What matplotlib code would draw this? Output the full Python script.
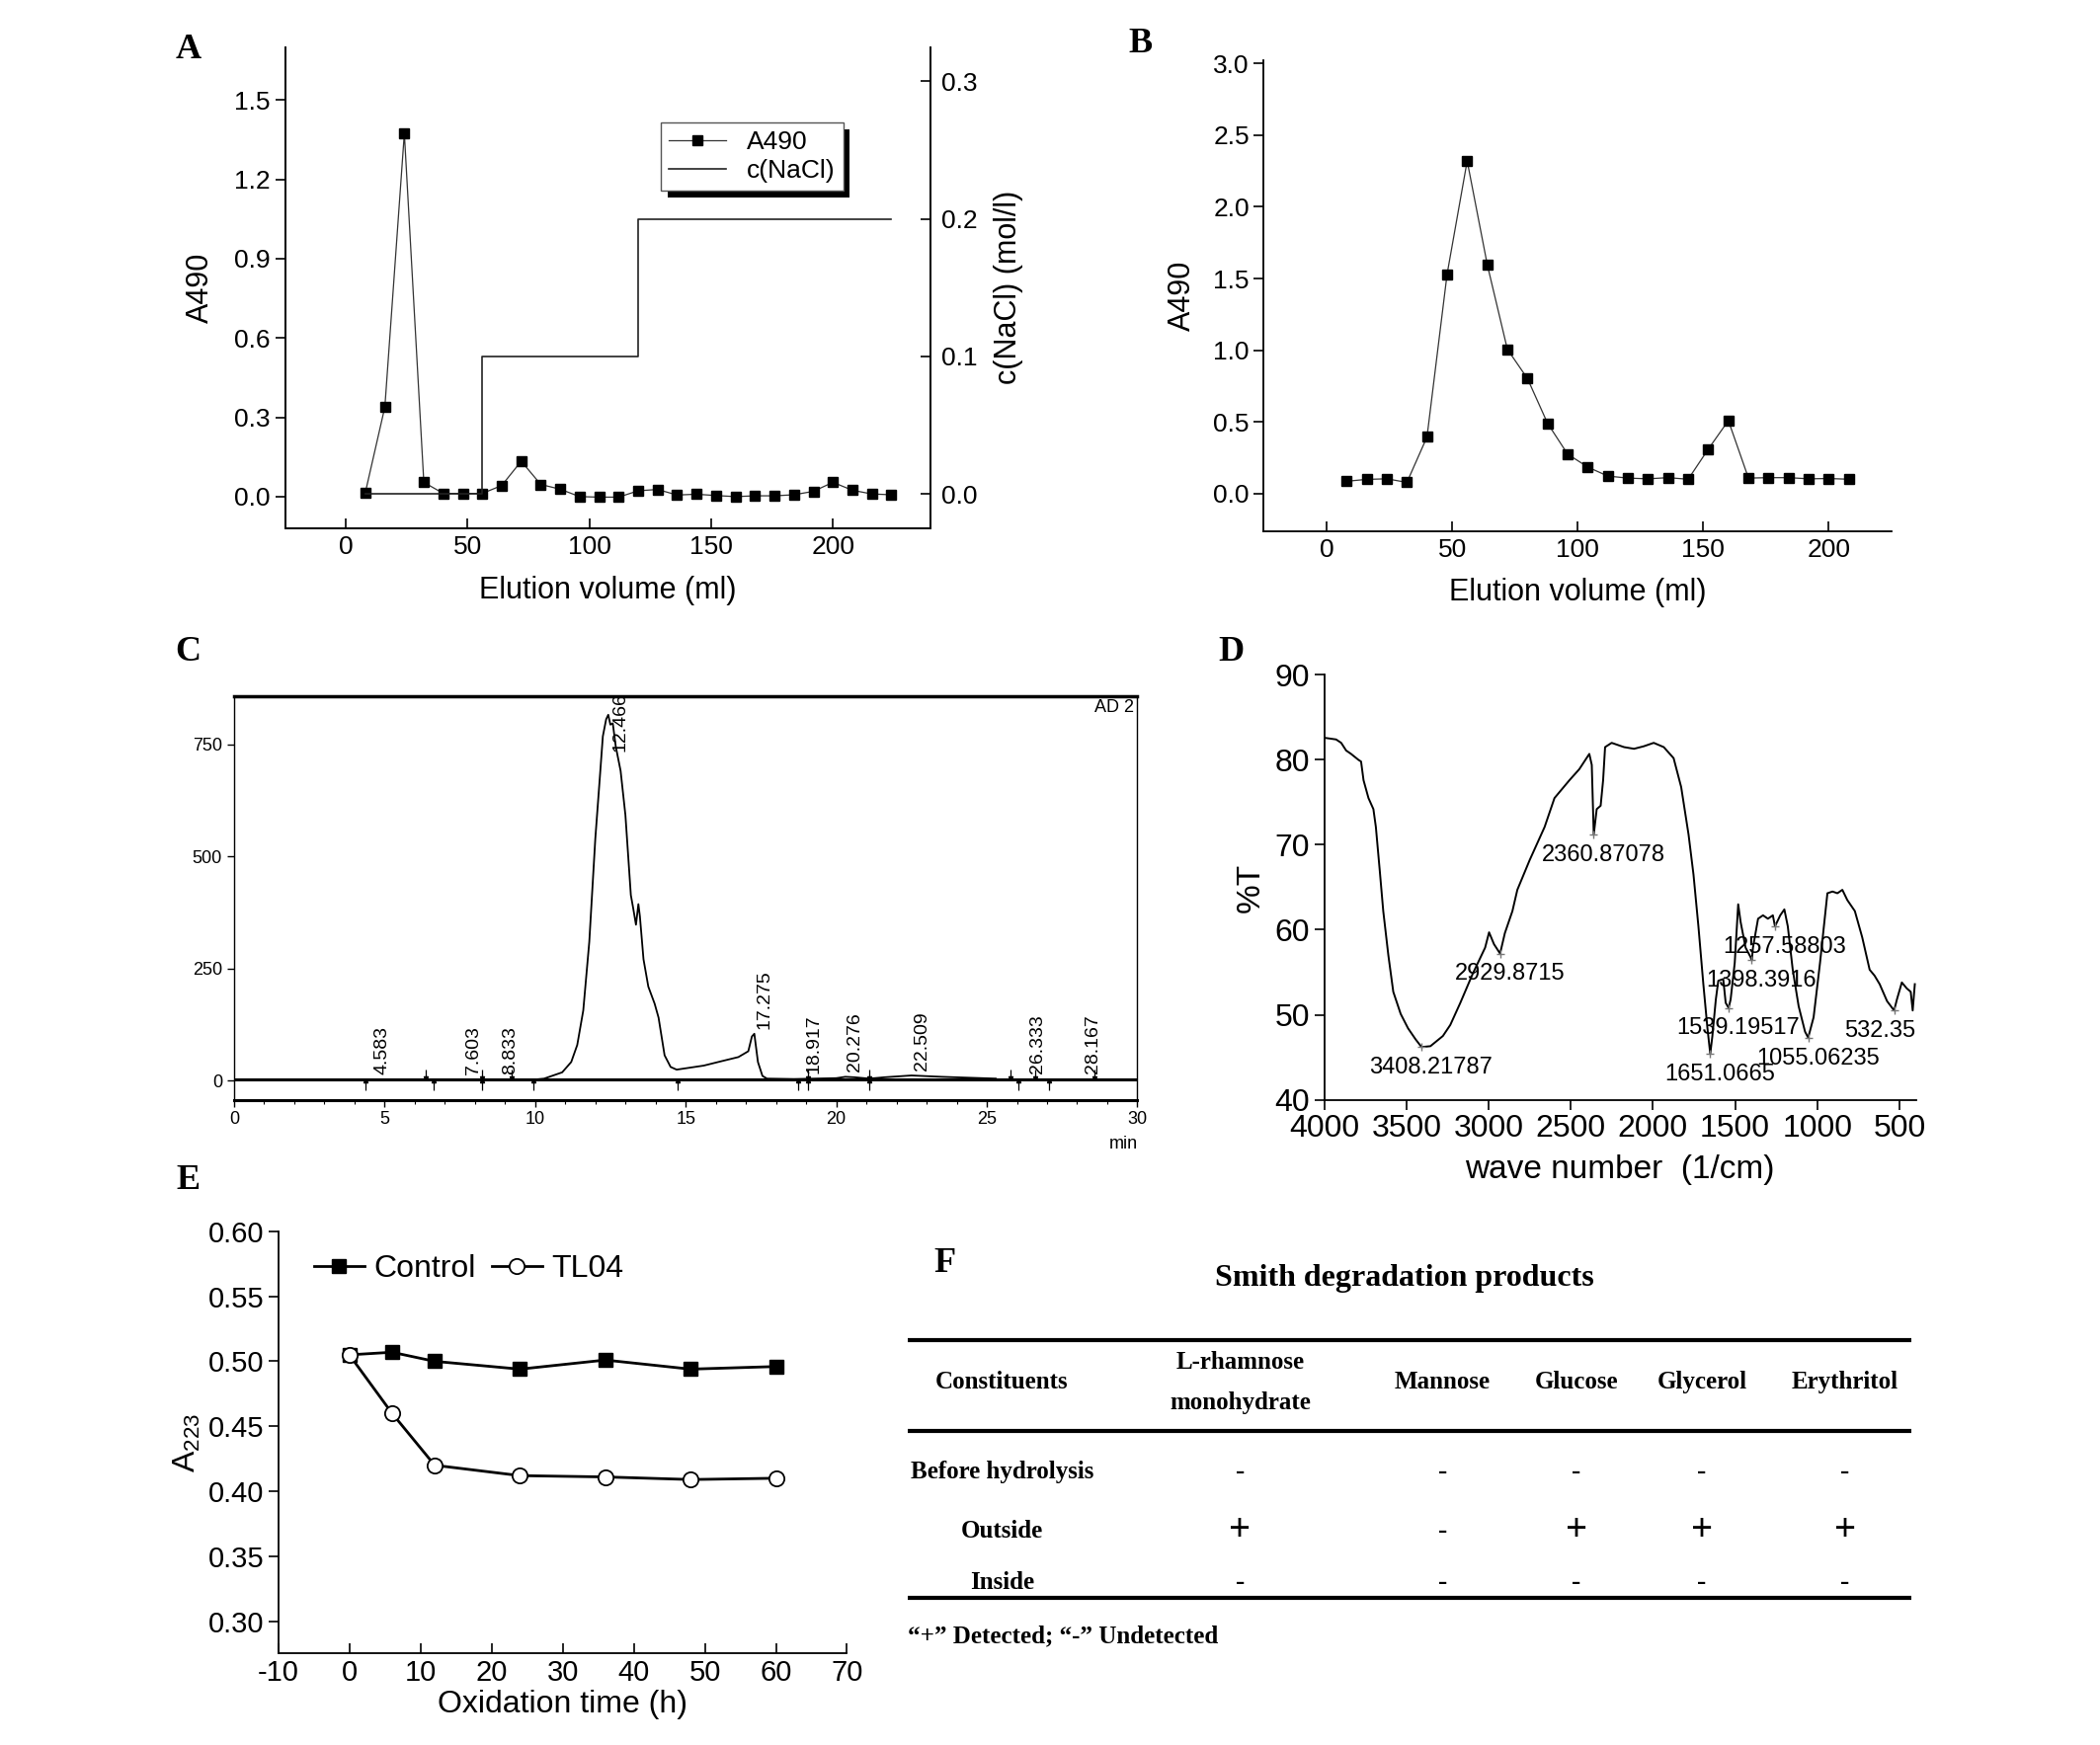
import numpy as np
import matplotlib.pyplot as plt
from matplotlib.ticker import FormatStrFormatter, MultipleLocator
import matplotlib.patheffects as pe

plt.rcParams['font.family'] = ['Liberation Sans', 'DejaVu Sans']
plt.rcParams['mathtext.fontset'] = 'custom'
plt.rcParams['mathtext.rm'] = 'Liberation Sans'
plt.rcParams['axes.unicode_minus'] = False

# Panel A - DEAE column elution
vol_a = [8, 16, 24, 32, 40, 48, 56, 64, 72, 80, 88, 96, 104, 112, 120, 128,
         136, 144, 152, 160, 168, 176, 184, 192, 200, 208, 216, 224]
a490_a = [0.016, 0.339, 1.374, 0.054, 0.012, 0.012, 0.012, 0.042, 0.134, 0.046,
          0.028, 0.0, -0.002, -0.002, 0.022, 0.027, 0.006, 0.009, 0.004, 0.0,
          0.003, 0.003, 0.007, 0.020, 0.054, 0.024, 0.010, 0.007]
nacl_vol = [8, 56, 120, 224]
nacl_conc = [0.0, 0.1, 0.2, 0.2]

# Panel B - gel filtration
vol_b = [8, 16, 24, 32, 40, 48, 56, 64, 72, 80, 88, 96, 104, 112, 120, 128,
         136, 144, 152, 160, 168, 176, 184, 192, 200, 208]
a490_b = [0.087, 0.100, 0.104, 0.079, 0.396, 1.531, 2.320, 1.597, 1.007, 0.803,
          0.491, 0.276, 0.186, 0.123, 0.109, 0.104, 0.112, 0.101, 0.311, 0.510,
          0.109, 0.112, 0.112, 0.104, 0.106, 0.101]

# Panel C - HPLC trace
hplc_t = [0.0, 10.0, 10.3, 10.9, 11.2, 11.4, 11.6, 11.8, 12.0, 12.15,
          12.25, 12.36, 12.43, 12.5, 12.58, 12.68, 12.84, 13.0, 13.18, 13.26,
          13.35, 13.43, 13.48, 13.6, 13.76, 13.97, 14.1, 14.3, 14.5, 14.7,
          15.0, 15.6, 16.2, 16.75, 17.08, 17.2, 17.28, 17.4, 17.55, 17.7,
          18.6, 20.0, 20.3, 20.6, 21.1, 21.6, 22.5, 23.5, 25.3]
hplc_mv = [3, 3, 5, 19, 42, 80, 157, 310, 540, 676,
           768, 806, 816, 794, 797, 745, 691, 592, 414, 384,
           348, 394, 367, 271, 210, 172, 141, 57, 31, 25,
           28, 34, 44, 53, 66, 99, 105, 42, 11, 5,
           4, 6, 9, 8, 5, 8, 12, 9, 5]
peak_rt = [4.583, 7.603, 8.833, 12.466, 17.275, 18.917, 20.276, 22.509, 26.333, 28.167]
event_up = [4.37, 6.64, 8.25, 9.94, 14.74, 18.73, 19.05, 21.08, 26.06, 27.08]
event_down = [6.36, 8.25, 9.21, 19.05, 21.08, 25.8, 26.6, 28.56]

# Panel D - IR spectrum
ir_wn = [4000, 3928, 3897, 3867, 3837, 3792, 3776, 3761, 3731, 3701, 3686, 3662,
         3641, 3610, 3580, 3535, 3490, 3444, 3408, 3354, 3278, 3233, 3172, 3097,
         3021, 2997, 2967, 2930, 2901, 2855, 2825, 2750, 2659, 2599, 2508, 2448,
         2387, 2372, 2360, 2342, 2318, 2303, 2291, 2251, 2176, 2115, 2055, 1995,
         1934, 1874, 1828, 1783, 1753, 1723, 1693, 1668, 1651, 1638, 1617, 1602,
         1572, 1557, 1539, 1527, 1502, 1481, 1466, 1436, 1406, 1398, 1391, 1360,
         1330, 1300, 1270, 1257, 1225, 1200, 1179, 1149, 1113, 1074, 1055, 1022,
         983, 938, 907, 877, 847, 817, 771, 726, 681, 651, 620, 575, 532, 515,
         485, 455, 431, 419, 406]
ir_t = [82.6, 82.4, 82.0, 81.1, 80.7, 80.0, 79.8, 77.6, 75.5, 74.2, 72.1, 66.9,
        62.2, 57.0, 52.7, 50.1, 48.4, 47.1, 46.2, 46.3, 47.5, 48.8, 51.4, 54.8,
        57.9, 59.7, 58.3, 57.2, 59.6, 62.2, 64.7, 68.2, 72.1, 75.5, 77.6, 78.9,
        80.7, 79.4, 71.2, 74.2, 74.6, 77.6, 81.5, 82.0, 81.5, 81.3, 81.6, 82.0,
        81.5, 80.2, 76.8, 71.2, 66.5, 60.4, 53.6, 48.4, 45.4, 47.5, 51.8, 54.0,
        54.2, 51.4, 50.8, 51.8, 56.1, 63.0, 60.9, 57.9, 56.8, 56.4, 57.9, 61.3,
        61.7, 61.3, 61.7, 60.4, 61.7, 62.4, 60.4, 55.3, 51.0, 48.0, 47.3, 49.7,
        56.1, 64.3, 64.5, 64.3, 64.7, 63.5, 62.2, 59.1, 55.3, 54.6, 53.6, 51.6,
        50.5, 51.8, 53.8, 53.1, 52.7, 50.5, 53.6]
ir_peaks = ['3408.21787', '2929.8715', '2360.87078', '1651.0665', '1539.19517',
            '1398.3916', '1257.58803', '1055.06235', '532.35']
ir_peak_t = [46.2, 57.2, 71.2, 45.4, 50.8, 56.4, 60.4, 47.3, 50.5]

# Panel E - periodate oxidation
ox_time = [0, 6, 12, 24, 36, 48, 60]
a223_control = [0.505, 0.507, 0.500, 0.494, 0.501, 0.494, 0.496]
a223_tl04 = [0.505, 0.460, 0.420, 0.412, 0.411, 0.409, 0.410]

# Panel F - Smith degradation table
f_cols = ['L-rhamnose\nmonohydrate', 'Mannose', 'Glucose', 'Glycerol', 'Erythritol']
f_rows = ['Before hydrolysis', 'Outside', 'Inside']
f_marks = [['-', '-', '-', '-', '-'],
           ['+', '-', '+', '+', '+'],
           ['-', '-', '-', '-', '-']]

# layout is measured on a grid of the reference (about 1560 x 1297)
W, H = 1562.0, 1298.0


def box(x0, y0, x1, y1):
    return [x0 / W, 1 - y1 / H, (x1 - x0) / W, (y1 - y0) / H]


fig = plt.figure(figsize=(21.26, 17.67), dpi=100)
serif = ['Liberation Serif', 'DejaVu Serif']
for letter, (lx, ly) in zip('ABCDEF', [(140, 37), (848, 33), (140, 485),
                                       (916, 485), (140, 878), (703, 940)]):
    fig.text(lx / W, 1 - ly / H, letter, family=serif, weight='bold',
             fontsize=26, ha='center', va='center')

# ---------- A ----------
axA = fig.add_axes(box(212, 35, 692, 393))
lA, = axA.plot(vol_a, a490_a, color='#333333', lw=0.9, marker='s', ms=7,
               mfc='black', mec='black', label='A490')
axA.set_xlim(-25, 240)
axA.set_ylim(-0.12, 1.70)
axA.set_yticks([0, 0.3, 0.6, 0.9, 1.2, 1.5])
axA.yaxis.set_major_formatter(FormatStrFormatter('%.1f'))
axA.set_xticks([0, 50, 100, 150, 200])
axA.spines['top'].set_visible(False)
axA.tick_params(axis='y', direction='out', length=7, width=1.2, labelsize=19)
axA.tick_params(axis='x', direction='in', length=7, width=1.2, labelsize=19, pad=5)
axA.set_xlabel('Elution volume (ml)', fontsize=22, labelpad=12)
axA.set_ylabel('A490', fontsize=22, labelpad=14)

axA2 = axA.twinx()
lN, = axA2.step(nacl_vol, nacl_conc, where='post', color='#222222', lw=1.2,
                label='c(NaCl)')
axA2.set_ylim(-0.025, 0.325)
axA2.set_yticks([0, 0.1, 0.2, 0.3])
axA2.yaxis.set_major_formatter(FormatStrFormatter('%.1f'))
axA2.spines['top'].set_visible(False)
axA2.tick_params(axis='y', direction='in', length=7, width=1.2, labelsize=19, pad=8)
axA2.set_ylabel('c(NaCl) (mol/l)', fontsize=22, labelpad=12)
for ax in (axA, axA2):
    for s in ax.spines.values():
        s.set_linewidth(1.3)
leg = axA2.legend(handles=[lA, lN], loc='upper right', bbox_to_anchor=(0.885, 0.87),
                  fancybox=False, edgecolor='#555555', framealpha=1, fontsize=19,
                  handlelength=2.2, borderpad=0.3, labelspacing=0.2)
leg.get_frame().set_linewidth(1.0)
leg.get_frame().set_path_effects([pe.SimplePatchShadow(offset=(5, -5),
                                                       shadow_rgbFace='black', alpha=1),
                                  pe.Normal()])

# ---------- B ----------
axB = fig.add_axes(box(940, 45, 1407, 395))
axB.plot(vol_b, a490_b, color='#333333', lw=0.9, marker='s', ms=7,
         mfc='black', mec='black')
axB.set_xlim(-25, 225)
axB.set_ylim(-0.26, 3.02)
axB.set_yticks([0, 0.5, 1.0, 1.5, 2.0, 2.5, 3.0])
axB.yaxis.set_major_formatter(FormatStrFormatter('%.1f'))
axB.set_xticks([0, 50, 100, 150, 200])
for s in ('top', 'right'):
    axB.spines[s].set_visible(False)
for s in axB.spines.values():
    s.set_linewidth(1.3)
axB.tick_params(axis='y', direction='out', length=7, width=1.2, labelsize=19)
axB.tick_params(axis='x', direction='in', length=7, width=1.2, labelsize=19, pad=5)
axB.set_xlabel('Elution volume (ml)', fontsize=22, labelpad=12)
axB.set_ylabel('A490', fontsize=22, labelpad=12)

# ---------- C ----------
axC = fig.add_axes(box(174, 518, 846, 818))
axC.axhline(3, color='black', lw=2.2)
axC.plot(hplc_t, hplc_mv, color='black', lw=1.3)
axC.set_xlim(0, 30)
axC.set_ylim(-42, 857)
axC.set_xticks([0, 5, 10, 15, 20, 25, 30])
axC.xaxis.set_minor_locator(MultipleLocator(1))
axC.set_yticks([0, 250, 500, 750])
axC.tick_params(axis='both', which='major', direction='out', length=5, width=1,
                labelsize=13)
axC.tick_params(axis='x', which='minor', direction='out', length=3, width=0.8)
axC.spines['top'].set_linewidth(2.5)
axC.spines['bottom'].set_linewidth(2.2)
axC.spines['left'].set_linewidth(1.0)
axC.spines['right'].set_linewidth(1.0)
for rt in peak_rt:
    yb = min(np.interp(rt, hplc_t, hplc_mv) + 12, 735)
    axC.text(rt + 0.35, yb, f'{rt:.3f}', rotation=90, fontsize=14,
             ha='center', va='bottom')
axC.vlines(event_up, -22, 3, color='black', lw=0.9)
axC.plot(event_up, [2] * len(event_up), ls='none', marker='^', ms=3, color='black')
axC.vlines(event_down, 3, 25, color='black', lw=0.9)
axC.plot(event_down, [5] * len(event_down), ls='none', marker='v', ms=3, color='black')
axC.text(29.9, 833, 'AD 2', fontsize=13, ha='right', va='center')
axC.text(0.985, -0.11, 'min', transform=axC.transAxes, fontsize=13,
         ha='center', va='center')

# ---------- D ----------
axD = fig.add_axes(box(985, 502, 1425, 818))
axD.plot(ir_wn, ir_t, color='black', lw=1.4)
axD.plot([float(p) for p in ir_peaks], ir_peak_t, ls='none', marker='+',
         ms=6, color='#777777')
for lab, pt in zip(ir_peaks, ir_peak_t):
    off = (-10, -15) if lab == '532.35' else (7, -15)
    axD.annotate(lab, (float(lab), pt), xytext=off, textcoords='offset points',
                 fontsize=17, ha='center', va='center', annotation_clip=False)
axD.set_xlim(4000, 400)
axD.set_ylim(40, 90)
axD.set_xticks([4000, 3500, 3000, 2500, 2000, 1500, 1000, 500])
axD.set_yticks([40, 50, 60, 70, 80, 90])
for s in ('top', 'right'):
    axD.spines[s].set_visible(False)
for s in axD.spines.values():
    s.set_linewidth(1.3)
axD.tick_params(axis='both', direction='out', length=7, width=1.2, labelsize=23)
axD.set_xlabel('wave number  (1/cm)', fontsize=24, labelpad=8)
axD.set_ylabel('%T', fontsize=24, labelpad=6)

# ---------- E ----------
axE = fig.add_axes(box(207, 916, 630, 1230))
axE.plot(ox_time, a223_control, color='black', lw=2, marker='s', ms=10,
         mfc='black', label='Control')
axE.plot(ox_time, a223_tl04, color='black', lw=2, marker='o', ms=11,
         mfc='white', mec='black', mew=1.3, label='TL04')
axE.set_xlim(-10, 70)
axE.set_ylim(0.275, 0.60)
axE.set_xticks([-10, 0, 10, 20, 30, 40, 50, 60, 70])
axE.set_yticks([0.30, 0.35, 0.40, 0.45, 0.50, 0.55, 0.60])
axE.yaxis.set_major_formatter(FormatStrFormatter('%.2f'))
for s in ('top', 'right'):
    axE.spines[s].set_visible(False)
for s in axE.spines.values():
    s.set_linewidth(1.3)
axE.tick_params(axis='y', direction='out', length=7, width=1.2, labelsize=21)
axE.tick_params(axis='x', direction='in', length=7, width=1.2, labelsize=21, pad=4)
axE.set_xlabel('Oxidation time (h)', fontsize=23, labelpad=2)
axE.set_ylabel('A$_{223}$', fontsize=23, labelpad=4)
axE.legend(loc='center left', bbox_to_anchor=(0.04, 0.91), ncol=2, frameon=False,
           fontsize=23, handlelength=1.6, handletextpad=0.3, columnspacing=0.5,
           borderaxespad=0)

# ---------- F ----------
axF = fig.add_axes(box(670, 930, 1430, 1230))
axF.set_xlim(0, 1)
axF.set_ylim(0, 1)
axF.axis('off')
axF.text(0.493, 0.93, 'Smith degradation products', family=serif, weight='bold',
         fontsize=23, ha='center', va='center')
for yr in (0.777, 0.553, 0.137):
    axF.plot([0.007, 0.989], [yr, yr], color='black', lw=3, solid_capstyle='butt')
col_x = [0.332, 0.530, 0.661, 0.784, 0.924]
row_y = [0.45, 0.303, 0.177]
axF.text(0.099, 0.673, 'Constituents', family=serif, weight='bold', fontsize=18,
         ha='center', va='center')
for cx, name in zip(col_x, f_cols):
    axF.text(cx, 0.673, name, family=serif, weight='bold', fontsize=18,
             ha='center', va='center', linespacing=2.0)
for ry, name, marks in zip(row_y, f_rows, f_marks):
    axF.text(0.099, ry, name, family=serif, weight='bold', fontsize=18,
             ha='center', va='center')
    for cx, m in zip(col_x, marks):
        axF.text(cx, ry, m, family=serif, fontsize=28 if m == '+' else 20,
                 weight='bold', ha='center', va='center')
axF.text(0.007, 0.043, '\u201c+\u201d Detected; \u201c-\u201d Undetected', family=serif,
         weight='bold', fontsize=18, ha='left', va='center')

fig.savefig('out.png', dpi=100)
